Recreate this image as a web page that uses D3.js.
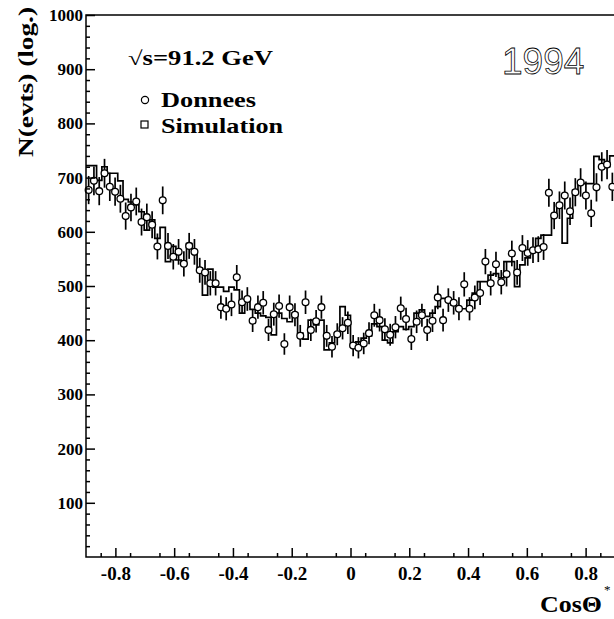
<!DOCTYPE html>
<html>
<head>
<meta charset="utf-8">
<script src="https://cdn.jsdelivr.net/npm/d3@7"></script>
<style>
  body { margin: 0; background: #fff; }
</style>
</head>
<body>
<div id="chart"></div>
<script>
// histogram binning of cos(theta*)
const binLo = -0.9;
const binHi = 0.9;
const nBins = 100;

// data (Donnees), events per bin
const donnees = [
  677, 694, 675, 708, 683, 674, 661, 629, 645, 656,
  618, 627, 613, 573, 658, 574, 554, 563, 541, 574,
  563, 529, 525, 505, 505, 461, 458, 466, 516, 470,
  476, 436, 461, 469, 419, 448, 463, 393, 461, 447,
  408, 470, 419, 435, 461, 408, 388, 411, 422, 432,
  390, 386, 394, 413, 446, 437, 420, 410, 424, 459,
  439, 402, 434, 446, 419, 436, 479, 437, 474, 469,
  458, 503, 458, 479, 487, 545, 505, 540, 507, 522,
  560, 525, 570, 561, 566, 568, 572, 672, 630, 649,
  667, 638, 673, 691, 667, 634, 682, 720, 724, 683
];

// simulation histogram, events per bin
const simulation = [
  722, 722, 695, 720, 708, 708, 694, 660, 655, 650,
  637, 603, 622, 588, 608, 545, 573, 548, 540, 578,
  560, 533, 483, 531, 498, 498, 490, 498, 493, 450,
  471, 457, 450, 445, 442, 410, 450, 440, 434, 450,
  413, 402, 437, 428, 437, 382, 395, 413, 462, 446,
  388, 397, 404, 408, 430, 425, 400, 395, 416, 425,
  420, 425, 450, 456, 444, 450, 462, 477, 472, 465,
  458, 458, 474, 487, 508, 508, 520, 523, 515, 545,
  545, 499, 539, 552, 566, 588, 594, 594, 631, 652,
  579, 625, 677, 692, 689, 689, 739, 733, 720, 740
];

const xMajor = [-0.8, -0.6, -0.4, -0.2, 0, 0.2, 0.4, 0.6, 0.8];
const xLabels = ['-0.8', '-0.6', '-0.4', '-0.2', '0', '0.2', '0.4', '0.6', '0.8'];
const yMajor = [100, 200, 300, 400, 500, 600, 700, 800, 900, 1000];

const serif = '"Liberation Serif", "Times New Roman", serif';

const svg = d3.select('#chart').append('svg')
  .attr('width', 614)
  .attr('height', 619);

const mLeft = 86;
const mRight = 615;
const mTop = 15;
const mBottom = 557;

const x = d3.scaleLinear().domain([binLo, binHi]).range([mLeft, mRight]);
const y = d3.scaleLinear().domain([0, 1000]).range([mBottom, mTop]);
const bw = (binHi - binLo) / nBins;
const binStart = i => binLo + i * bw;

// simulation as a step histogram
const steps = [];
simulation.forEach((v, i) => {
  steps.push([x(binStart(i)), y(v)]);
  steps.push([x(binStart(i + 1)), y(v)]);
});
svg.append('path')
  .attr('d', d3.line()(steps))
  .attr('fill', 'none')
  .attr('stroke', '#000')
  .attr('stroke-width', 1.7);

// data points with poisson errors
const pts = svg.append('g');
donnees.forEach((v, i) => {
  const cx = x(binStart(i) + bw / 2);
  const err = Math.sqrt(v);
  pts.append('line')
    .attr('x1', cx).attr('x2', cx)
    .attr('y1', y(v - err)).attr('y2', y(v + err))
    .attr('stroke', '#000')
    .attr('stroke-width', 1.7);
});
donnees.forEach((v, i) => {
  pts.append('circle')
    .attr('cx', x(binStart(i) + bw / 2))
    .attr('cy', y(v))
    .attr('r', 3.4)
    .attr('fill', '#fff')
    .attr('stroke', '#000')
    .attr('stroke-width', 1.3);
});

// frame
svg.append('path')
  .attr('d', `M${mRight + 3},${mTop}H${mLeft}V${mBottom}H${mRight + 3}`)
  .attr('stroke', '#000')
  .attr('stroke-width', 1.5)
  .attr('fill', 'none');

// axes: ticks point inward
const xAxis = d3.axisBottom(x)
  .tickValues(xMajor)
  .tickSize(-9)
  .tickFormat((d, i) => xLabels[i]);
const gx = svg.append('g')
  .attr('transform', `translate(0,${mBottom})`)
  .call(xAxis);
gx.select('.domain').remove();
gx.selectAll('.tick line').attr('stroke-width', 1.5);
gx.selectAll('.tick text')
  .attr('y', 10)
  .attr('fill', '#000')
  .style('font-family', serif)
  .style('font-weight', 'bold')
  .style('font-size', '19px');

const gxm = svg.append('g')
  .attr('transform', `translate(0,${mBottom})`)
  .call(d3.axisBottom(x)
    .tickValues(d3.range(-0.85, 0.9, 0.1))
    .tickSize(-4)
    .tickFormat(''));
gxm.select('.domain').remove();
gxm.selectAll('.tick line').attr('stroke-width', 1.5);

const yAxis = d3.axisLeft(y)
  .tickValues(yMajor)
  .tickSize(-9)
  .tickFormat(d3.format('d'));
const gy = svg.append('g')
  .attr('transform', `translate(${mLeft},0)`)
  .call(yAxis);
gy.select('.domain').remove();
gy.selectAll('.tick line').attr('stroke-width', 1.5);
gy.selectAll('.tick text')
  .attr('x', -3)
  .attr('fill', '#000')
  .style('font-family', serif)
  .style('font-weight', 'bold')
  .style('font-size', '17px');

const yMinorVals = d3.range(20, 1000, 20).filter(v => v % 100 !== 0);
const gym = svg.append('g')
  .attr('transform', `translate(${mLeft},0)`)
  .call(d3.axisLeft(y).tickValues(yMinorVals).tickSize(-4).tickFormat(''));
gym.select('.domain').remove();
gym.selectAll('.tick line').attr('stroke-width', 1.5);

// bold serif text helper
function label(tx, ty, size, str, len) {
  const t = svg.append('text')
    .attr('x', tx)
    .attr('y', ty)
    .style('font-family', serif)
    .style('font-weight', 'bold')
    .style('font-size', size + 'px')
    .text(str);
  if (len) t.attr('textLength', len).attr('lengthAdjust', 'spacingAndGlyphs');
  return t;
}

// titles
label(0, 0, 20, 'N(evts) (log.)', 150)
  .attr('transform', 'translate(33,157) rotate(-90)');

label(540, 612, 23, 'CosΘ', 62);
svg.append('text')
  .attr('x', 604)
  .attr('y', 594)
  .style('font-family', serif)
  .style('font-size', '13px')
  .text('*');

// labels and legend
label(128, 65, 20, '√s=91.2 GeV', 145);

svg.append('circle')
  .attr('cx', 145).attr('cy', 100).attr('r', 3.6)
  .attr('fill', '#fff').attr('stroke', '#000').attr('stroke-width', 1.2);
label(161, 107, 20, 'Donnees', 95);

svg.append('rect')
  .attr('x', 141).attr('y', 121).attr('width', 7).attr('height', 7)
  .attr('fill', '#fff').attr('stroke', '#000').attr('stroke-width', 1.2);
label(161, 133, 20, 'Simulation', 122);

svg.append('text')
  .attr('x', 502)
  .attr('y', 74)
  .attr('fill', 'none')
  .attr('stroke', '#000')
  .attr('stroke-width', 0.8)
  .style('font-family', '"Liberation Sans", Arial, sans-serif')
  .style('font-weight', 'normal')
  .style('font-size', '37px')
  .text('1994');
</script>
</body>
</html>
